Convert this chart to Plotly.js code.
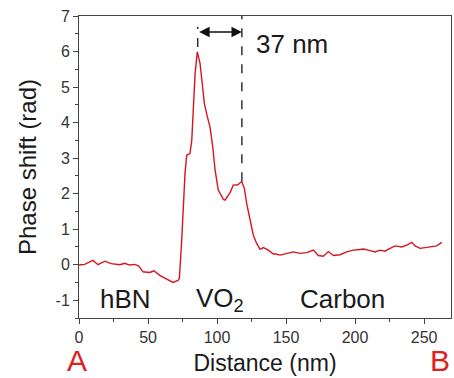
<!DOCTYPE html>
<html>
<head>
<meta charset="utf-8">
<script src="https://cdn.plot.ly/plotly-3.0.1.min.js"></script>
<style>html,body{margin:0;padding:0;background:#fff;}#chart{width:454px;height:378px;}</style>
</head>
<body>
<div id="chart"></div>
<script>
// Distance (nm)
const distance = [0,4.1,10.1,13.8,18.6,23.4,29.5,33.1,36.7,40.3,43.2,46.4,51.2,54.3,58.5,63.3,68.1,71.7,72.7,74.4,75.6,76.8,78.0,80.4,81.7,82.8,84.1,85.7,87.7,89.3,90.8,93.0,94.9,96.9,98.6,100.9,104.6,105.8,109.4,111.8,115.0,117.9,119.8,121.5,123.9,126.3,128.7,131.2,133.6,137.2,140.8,142.5,145.7,150.5,155.3,160.1,165.0,169.8,173.4,177.0,180.7,184.3,189.1,194.0,198.8,203.6,206.0,209.6,214.5,218.1,221.7,225.4,229.0,233.8,237.5,241.1,243.5,247.1,251.9,255.6,259.2,262.8];
// Phase shift (rad)
const phase = [-0.01,0.01,0.12,0.0,0.1,0.03,0.0,0.04,-0.01,0.01,-0.03,-0.2,-0.22,-0.17,-0.3,-0.39,-0.5,-0.44,-0.39,0.69,1.82,2.57,3.08,3.13,3.5,4.44,5.38,5.99,5.66,5.1,4.54,4.16,3.88,3.32,2.66,2.1,1.84,1.82,2.03,2.24,2.25,2.34,2.15,1.72,1.25,0.83,0.6,0.43,0.48,0.41,0.3,0.3,0.27,0.32,0.36,0.32,0.34,0.41,0.26,0.24,0.37,0.26,0.28,0.36,0.41,0.43,0.44,0.41,0.36,0.41,0.38,0.46,0.53,0.5,0.55,0.63,0.53,0.46,0.48,0.5,0.53,0.63];

const xTicks = [0,50,100,150,200,250];
const yTicks = [-1,0,1,2,3,4,5,6,7];
const regionLabels = ["hBN","VO<sub>2</sub>","Carbon"];
const regionX = [34,102,191];
const widthMarks = [86,118];      // nm, edges of the 37 nm feature
const widthMarkTops = [6.13,2.35]; // where the dashed markers meet the curve
const widthLabel = "37 nm";
const endLabels = ["A","B"];

const font = "Liberation Sans, Arial, sans-serif";
const txt = "#1a1a1a";

const trace = {
  x: distance, y: phase, type: "scatter", mode: "lines",
  line: {color: "#d9141c", width: 1.4}, hoverinfo: "skip"
};

const axisCommon = {
  showgrid: false, zeroline: false, showline: true, linecolor: "#444", linewidth: 1,
  mirror: true, ticks: "outside", ticklen: 5, tickwidth: 1, tickcolor: "#444",
  tickfont: {family: font, size: 16, color: "#333"}
};

const layout = {
  width: 454, height: 378,
  margin: {l: 79, r: 3, t: 16, b: 60},
  paper_bgcolor: "#fff", plot_bgcolor: "#fff",
  showlegend: false,
  xaxis: Object.assign({}, axisCommon, {
    range: [0, 269.5], tickvals: xTicks, ticktext: xTicks.map(String),
    minor: {dtick: 25, tick0: 0, ticks: "outside", ticklen: 3, tickcolor: "#444"},
    title: {text: "Distance (nm)", font: {family: font, size: 23, color: txt}, standoff: 9}
  }),
  yaxis: Object.assign({}, axisCommon, {
    range: [-1.5, 7], tickvals: yTicks, ticktext: yTicks.map(String),
    minor: {dtick: 0.5, tick0: 0, ticks: "outside", ticklen: 3, tickcolor: "#444"},
    title: {text: "Phase shift (rad)", font: {family: font, size: 24, color: txt}, standoff: 12}
  }),
  shapes: [
    {type: "line", xref: "x", yref: "y", x0: widthMarks[0], x1: widthMarks[0], y0: widthMarkTops[0], y1: 6.7,
     line: {color: "#333", width: 1.5, dash: "dash"}},
    {type: "line", xref: "x", yref: "y", x0: widthMarks[1], x1: widthMarks[1], y0: widthMarkTops[1], y1: 7,
     line: {color: "#333", width: 1.5, dash: "dash"}}
  ],
  annotations: [
    {x: widthMarks[1], y: 6.55, ax: widthMarks[0], ay: 6.55, xref: "x", yref: "y", axref: "x", ayref: "y",
     text: "", showarrow: true, arrowhead: 2, startarrowhead: 2, arrowside: "end+start", arrowsize: 1.3, arrowwidth: 1.6, arrowcolor: "#111"},
    {x: 154, y: 6.2, xref: "x", yref: "y", text: widthLabel, showarrow: false,
     font: {family: font, size: 26, color: txt}},
    {x: -0.005, y: -0.14, xref: "paper", yref: "paper", xanchor: "center", yanchor: "middle", text: endLabels[0], showarrow: false,
     font: {family: font, size: 30, color: "#e0201c"}},
    {x: 1.003, y: -0.14, xref: "paper", yref: "paper", xanchor: "right", yanchor: "middle", text: endLabels[1], showarrow: false,
     font: {family: font, size: 30, color: "#e0201c"}}
  ].concat(regionLabels.map((t, i) => ({
    x: regionX[i], y: -0.97, xref: "x", yref: "y", text: t, showarrow: false,
    font: {family: font, size: 26, color: txt}
  })))
};

Plotly.newPlot("chart", [trace], layout, {displayModeBar: false, staticPlot: true});
</script>
</body>
</html>
